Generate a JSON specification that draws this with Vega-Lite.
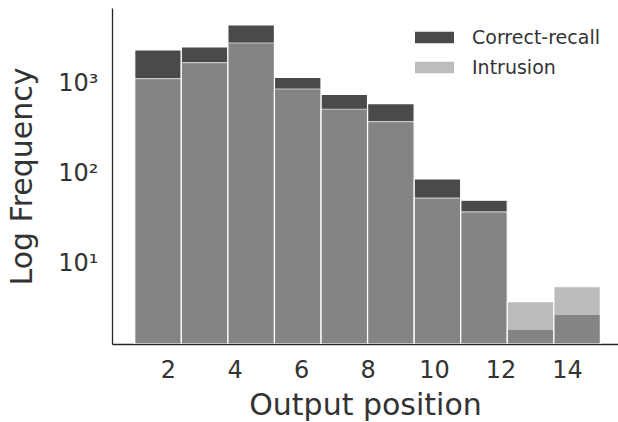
{
  "$schema": "https://vega.github.io/schema/vega-lite/v6.json",
  "width": 506,
  "height": 336,
  "autosize": {"type": "none"},
  "padding": {"left": 112, "top": 8, "right": 0, "bottom": 78},
  "background": "white",
  "config": {
    "view": {"stroke": null},
    "font": "DejaVu Sans",
    "axis": {"grid": false, "domainColor": "#262626", "domainWidth": 1.3, "labelColor": "#333333", "titleColor": "#333333", "titleFontWeight": "normal", "labelFont": "DejaVu Sans", "titleFont": "DejaVu Sans"}
  },
  "data": {
    "values": [
      {"start": 1.0, "end": 2.4, "type": "Correct-recall", "count": 2326},
      {"start": 2.4, "end": 3.8, "type": "Correct-recall", "count": 2512},
      {"start": 3.8, "end": 5.2, "type": "Correct-recall", "count": 4410},
      {"start": 5.2, "end": 6.6, "type": "Correct-recall", "count": 1156},
      {"start": 6.6, "end": 8.0, "type": "Correct-recall", "count": 745},
      {"start": 8.0, "end": 9.4, "type": "Correct-recall", "count": 589},
      {"start": 9.4, "end": 10.8, "type": "Correct-recall", "count": 85.8},
      {"start": 10.8, "end": 12.2, "type": "Correct-recall", "count": 49.8},
      {"start": 12.2, "end": 13.6, "type": "Correct-recall", "count": 1.83},
      {"start": 13.6, "end": 15.0, "type": "Correct-recall", "count": 2.69},
      {"start": 1.0, "end": 2.4, "type": "Intrusion", "count": 1117},
      {"start": 2.4, "end": 3.8, "type": "Intrusion", "count": 1681},
      {"start": 3.8, "end": 5.2, "type": "Intrusion", "count": 2783},
      {"start": 5.2, "end": 6.6, "type": "Intrusion", "count": 858},
      {"start": 6.6, "end": 8.0, "type": "Intrusion", "count": 511},
      {"start": 8.0, "end": 9.4, "type": "Intrusion", "count": 372},
      {"start": 9.4, "end": 10.8, "type": "Intrusion", "count": 52.7},
      {"start": 10.8, "end": 12.2, "type": "Intrusion", "count": 36.9},
      {"start": 12.2, "end": 13.6, "type": "Intrusion", "count": 3.72},
      {"start": 13.6, "end": 15.0, "type": "Intrusion", "count": 5.45}
    ]
  },
  "mark": {"type": "bar", "stroke": "white", "strokeWidth": 1.2, "clip": true},
  "encoding": {
    "x": {
      "field": "start", "type": "quantitative",
      "scale": {"domain": [0.316, 15.53], "nice": false, "zero": false},
      "axis": {"values": [2, 4, 6, 8, 10, 12, 14], "tickSize": 0, "labelPadding": 14, "labelFontSize": 24, "title": "Output position", "titleFontSize": 30, "titlePadding": 8}
    },
    "x2": {"field": "end"},
    "y": {
      "field": "count", "type": "quantitative", "stack": null,
      "scale": {"type": "log", "domain": [1.259, 6813], "nice": false, "zero": false},
      "axis": {"values": [10, 100, 1000], "tickSize": 0, "labelPadding": 14, "labelFontSize": 24, "labelExpr": "datum.value == 10 ? '10¹' : datum.value == 100 ? '10²' : '10³'", "title": "Log Frequency", "titleFontSize": 30, "titlePadding": 20}
    },
    "y2": {"datum": 1.259},
    "color": {
      "field": "type", "type": "nominal",
      "scale": {"domain": ["Correct-recall", "Intrusion"], "range": ["#4a4a4a", "#9f9f9f"]},
      "legend": {"title": null, "orient": "none", "legendX": 303, "legendY": 10, "labelFontSize": 19, "labelColor": "#333333", "labelOffset": 18, "symbolType": "M-1,-0.3H1V0.3H-1Z", "symbolSize": 1521, "symbolStrokeWidth": 0, "rowPadding": -8, "padding": 0}
    },
    "opacity": {
      "field": "type", "type": "nominal",
      "scale": {"domain": ["Correct-recall", "Intrusion"], "range": [1, 0.69]},
      "legend": {"title": null, "orient": "none", "legendX": 303, "legendY": 10, "labelFontSize": 19, "labelColor": "#333333", "labelOffset": 18, "symbolType": "M-1,-0.3H1V0.3H-1Z", "symbolSize": 1521, "symbolStrokeWidth": 0, "rowPadding": -8, "padding": 0}
    },
    "order": {"field": "type", "sort": "ascending"}
  }
}
